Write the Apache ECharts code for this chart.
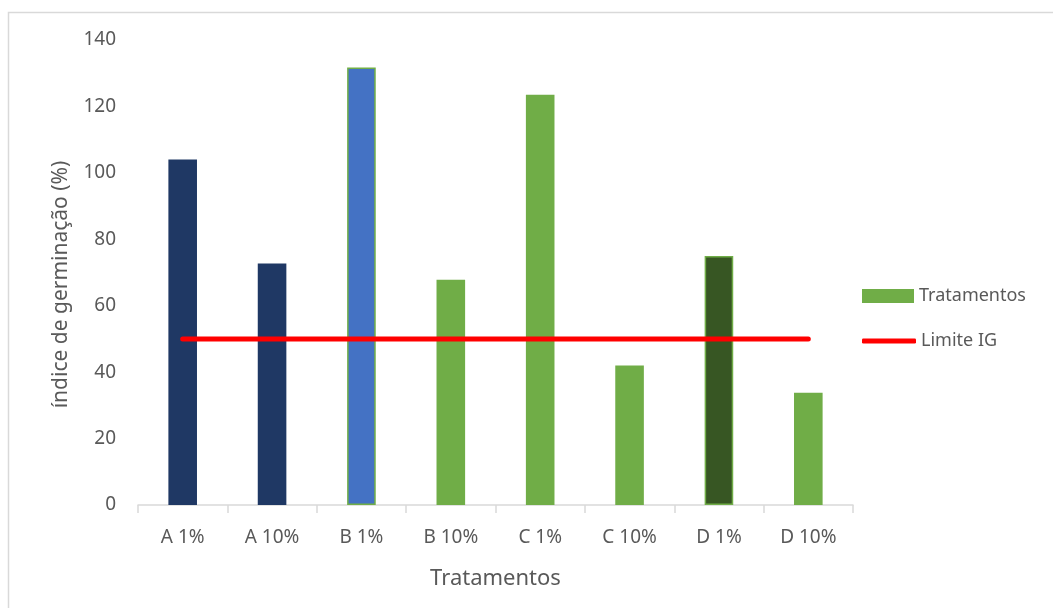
<!DOCTYPE html>
<html>
<head>
<meta charset="utf-8">
<script src="https://cdn.jsdelivr.net/npm/echarts@6/dist/echarts.min.js"></script>
<style>
    html, body { margin: 0; padding: 0; background: #fff; }
    #chart { width: 1053px; height: 608px; }
</style>
</head>
<body>
<div id="chart"></div>
<script>
    // categorias e valores
    var categories = ['A 1%', 'A 10%', 'B 1%', 'B 10%', 'C 1%', 'C 10%', 'D 1%', 'D 10%'];
    var treatmentValues = [104, 72.7, 131.7, 67.8, 123.5, 42, 75, 33.8];
    var limitValues = [50, 50, 50, 50, 50, 50, 50, 50];
    var yTicks = [0, 20, 40, 60, 80, 100, 120, 140];

    var barColors = ['#1F3864', '#1F3864', '#4472C4', '#70AD47', '#70AD47', '#70AD47', '#375623', '#70AD47'];
    var textColor = '#595959';
    var font = 'Noto Sans';

    var chart = echarts.init(document.getElementById('chart'));

    var option = {
        animation: false,
        backgroundColor: '#fff',
        textStyle: { fontFamily: font, color: textColor },
        graphic: [
            {
                type: 'rect',
                shape: { x: 8.5, y: 12.5, width: 1100, height: 700 },
                style: { fill: 'none', stroke: '#D9D9D9', lineWidth: 1.5 },
                silent: true
            }
        ],
        legend: [
            {
                data: ['Tratamentos'],
                orient: 'vertical',
                left: 857,
                top: 282,
                itemWidth: 52,
                itemHeight: 14,
                icon: 'rect',
                textStyle: { fontSize: 18, color: textColor, fontFamily: font }
            },
            {
                data: ['Limite IG'],
                orient: 'vertical',
                left: 857,
                top: 327,
                itemWidth: 54,
                itemHeight: 5,
                icon: 'roundRect',
                itemStyle: { color: '#FF0000' },
                textStyle: { fontSize: 18, color: textColor, fontFamily: font }
            }
        ],
        grid: {
            left: 138,
            right: 200,
            top: 40,
            bottom: 103
        },
        xAxis: {
            type: 'category',
            data: categories,
            name: 'Tratamentos',
            nameLocation: 'middle',
            nameGap: 63,
            nameTextStyle: { fontSize: 22, color: textColor, fontFamily: font },
            axisLine: { lineStyle: { color: '#D9D9D9', width: 1.5 } },
            axisTick: { show: true, length: 8, lineStyle: { color: '#D9D9D9', width: 1.5 } },
            axisLabel: { fontSize: 19, color: textColor, margin: 23 }
        },
        yAxis: {
            type: 'value',
            min: 0,
            max: 140,
            interval: 20,
            name: 'índice de germinação (%)',
            nameLocation: 'middle',
            nameGap: 66,
            nameTextStyle: { fontSize: 21, color: textColor, fontFamily: font, padding: [0, 24, 0, 0] },
            axisLine: { show: false },
            axisTick: { show: false },
            splitLine: { show: false },
            axisLabel: {
                fontSize: 19,
                color: textColor,
                margin: 22,
                formatter: function (v) {
                    return yTicks.indexOf(v) >= 0 ? String(v) : '';
                }
            }
        },
        series: [
            {
                name: 'Tratamentos',
                type: 'bar',
                barWidth: '32%',
                itemStyle: { color: '#70AD47' },
                data: treatmentValues.map(function (v, i) {
                    var style = { color: barColors[i] };
                    if (i === 2 || i === 6) {
                        style.borderColor = '#70AD47';
                        style.borderWidth = 1.5;
                    }
                    return { value: v, itemStyle: style };
                })
            },
            {
                name: 'Limite IG',
                type: 'line',
                symbol: 'none',
                data: limitValues,
                z: 5,
                lineStyle: { color: '#FF0000', width: 5, cap: 'round' },
                itemStyle: { color: '#FF0000' }
            }
        ]
    };

    chart.setOption(option);
</script>
</body>
</html>
